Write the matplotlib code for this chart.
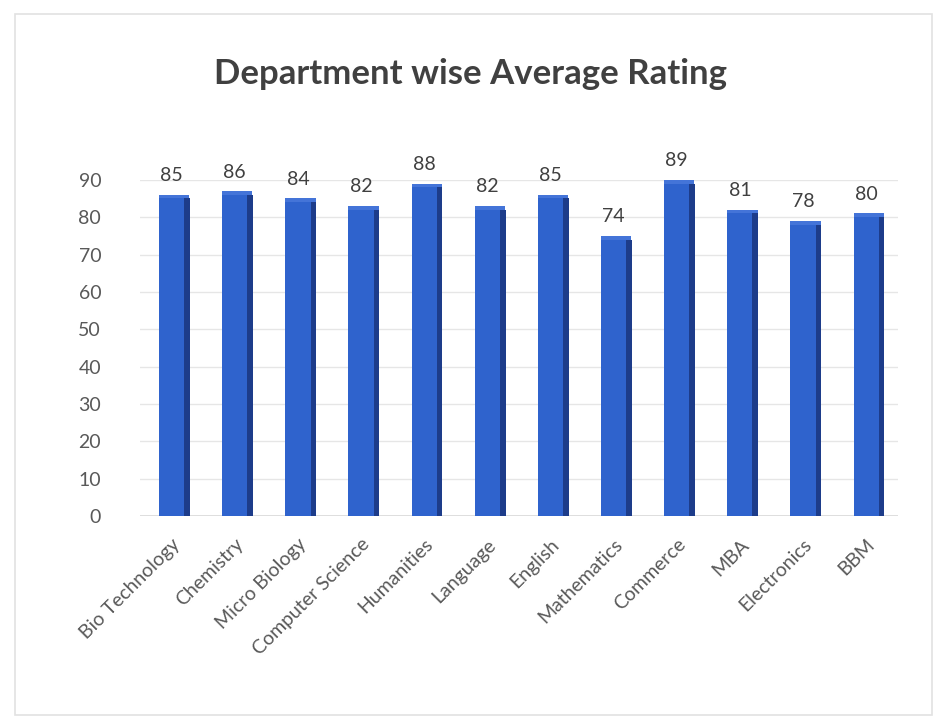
import matplotlib
matplotlib.use("Agg")
import matplotlib.pyplot as plt
from matplotlib.patches import Rectangle
import numpy as np

departments = ["Bio Technology", "Chemistry", "Micro Biology", "Computer Science",
               "Humanities", "Language", "English", "Mathematics", "Commerce",
               "MBA", "Electronics", "BBM"]
ratings = [85, 86, 84, 82, 88, 82, 85, 74, 89, 81, 78, 80]
y_ticks = [0, 10, 20, 30, 40, 50, 60, 70, 80, 90]
title = "Department wise Average Rating"

plt.rcParams['font.family'] = ['Lato', 'DejaVu Sans']

fig = plt.figure(figsize=(9.4, 7.22), dpi=100)
fig.patch.set_facecolor("white")
fig.patches.append(Rectangle((0.016, 0.01), 0.975, 0.97, transform=fig.transFigure,
                             fill=False, edgecolor="#e2e2e2", linewidth=1.2))

ax = fig.add_axes([0.149, 0.285, 0.806, 0.466])
x = np.arange(len(departments))
front_w = 0.40
side_w = 0.10

# side (depth) face
ax.bar(x + front_w / 2 + side_w / 2 - 0.01, ratings, width=side_w,
       color="#1d3c8a", zorder=2)
# front face
ax.bar(x, ratings, width=front_w, color="#2f63cd", zorder=3)
# top face
ax.bar(x + side_w / 2 - 0.01, [1.0] * len(ratings), bottom=ratings,
       width=front_w + side_w - 0.02, color="#4474d8", zorder=1)

for xi, v in zip(x, ratings):
    ax.text(xi, v + 3.8, str(v), ha="center", va="bottom", fontsize=14,
            color="#404040")

ax.set_xlim(-0.5, len(departments) - 0.5)
ax.set_ylim(0, 90)
ax.set_yticks(y_ticks)
ax.set_yticklabels([str(t) for t in y_ticks], fontsize=14, color="#595959")
ax.set_xticks(x)
ax.set_xticklabels(departments, rotation=45, ha="right", rotation_mode="anchor",
                   fontsize=14, color="#595959")
ax.tick_params(axis="both", length=0)
ax.tick_params(axis="y", pad=28)
ax.tick_params(axis="x", pad=14)
ax.grid(axis="y", color="#e6e6e6", linewidth=1)
ax.set_axisbelow(True)
for s in ax.spines.values():
    s.set_visible(False)
ax.axhline(0, color="#d9d9d9", linewidth=1.2, zorder=1)

fig.text(0.5, 0.897, title, ha="center", va="center", fontsize=25,
         fontweight="bold", color="#404040")

fig.savefig("out.png", dpi=100)
